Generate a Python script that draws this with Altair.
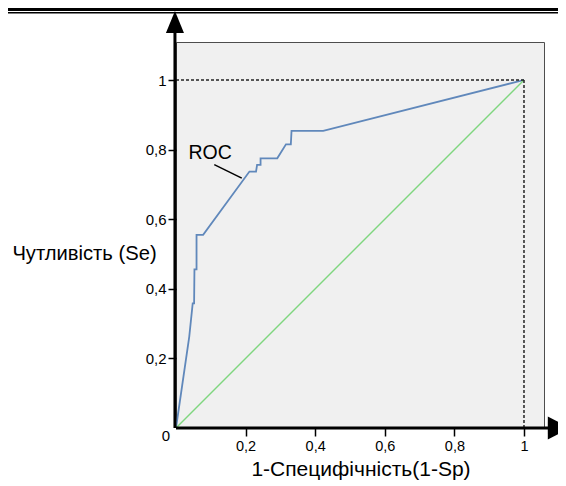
import altair as alt
import pandas as pd

# ROC curve points (1-Sp, Se)
roc_fpr = [0.0, 0.038, 0.048, 0.052, 0.053, 0.059, 0.059, 0.078, 0.211, 0.230, 0.233,
           0.243, 0.243, 0.291, 0.316, 0.330, 0.332, 0.423, 1.0]
roc_tpr = [0.0, 0.262, 0.358, 0.358, 0.456, 0.456, 0.555, 0.555, 0.737, 0.737, 0.756,
           0.756, 0.775, 0.775, 0.815, 0.815, 0.854, 0.854, 1.0]
diag_x = [0.0, 1.0]
diag_y = [0.0, 1.0]
tick_values = [0.2, 0.4, 0.6, 0.8, 1.0]
x_title = "1-Специфічність(1-Sp)"
y_title = "Чутливість (Se)"
roc_label = "ROC"
origin_label = "0"

X_DOMAIN = [0, 1.0575]
Y_DOMAIN = [0, 1.1092]
FONT = "Liberation Sans"

xs = alt.Scale(domain=X_DOMAIN, nice=False, zero=False)
ys = alt.Scale(domain=Y_DOMAIN, nice=False, zero=False)

label_expr = "replace(format(datum.value, '~g'), '.', ',')"

roc_df = pd.DataFrame({"fpr": roc_fpr, "tpr": roc_tpr, "i": list(range(len(roc_fpr)))})
diag_df = pd.DataFrame({"fpr": diag_x, "tpr": diag_y})

x_axis = alt.Axis(values=tick_values, labelExpr=label_expr, title=x_title, grid=False,
                  domain=False, tickSize=8, tickWidth=1.5, tickColor="black",
                  labelFont=FONT, labelFontSize=14.5, labelColor="black", labelPadding=3,
                  titleFont=FONT, titleFontSize=21, titleFontWeight="normal",
                  titleColor="black", titleX=184.5, titleY=47, titleAlign="center",
                  titleBaseline="alphabetic")
y_axis = alt.Axis(values=tick_values, labelExpr=label_expr, title=y_title, grid=False,
                  domain=False, tickSize=8, tickWidth=1.5, tickColor="black",
                  labelFont=FONT, labelFontSize=15, labelColor="black", labelPadding=2,
                  titleFont=FONT, titleFontSize=20.2, titleFontWeight="normal",
                  titleColor="black", titleAngle=0, titleX=-92, titleY=211,
                  titleAlign="center", titleBaseline="middle")


def X(field):
    return alt.X(field, type="quantitative", scale=xs, axis=x_axis)


def Y(field):
    return alt.Y(field, type="quantitative", scale=ys, axis=y_axis)


roc = alt.Chart(roc_df).mark_line(color="#6088bb", strokeWidth=1.8).encode(
    x=X("fpr"), y=Y("tpr"), order="i:Q",
)

diag = alt.Chart(diag_df).mark_line(color="#7fd67f", strokeWidth=1.4).encode(
    x=X("fpr"), y=Y("tpr"),
)

# dashed guide lines at Se = 1 and 1-Sp = 1
guide_df = pd.DataFrame({"fpr": [0.0, 1.0], "x2": [1.0, 1.0], "tpr": [1.0, 0.0], "y2": [1.0, 1.0]})
guides = alt.Chart(guide_df).mark_rule(color="#222222", strokeWidth=1.5, strokeDash=[3, 2]).encode(
    x=X("fpr"), x2="x2:Q", y=Y("tpr"), y2="y2:Q",
)

# thick axis lines with arrows
axes_df = pd.DataFrame({"fpr": [0.0, -0.003], "x2": [1.09, -0.003], "tpr": [0.0, 0.0], "y2": [0.0, 1.14]})
axes = alt.Chart(axes_df).mark_rule(color="black", strokeWidth=3).encode(
    x=X("fpr"), x2="x2:Q", y=Y("tpr"), y2="y2:Q",
)
up_df = pd.DataFrame({"fpr": [-0.003], "tpr": [1.1667]})
up_arrow = alt.Chart(up_df).mark_point(
    shape="M0,-1L0.82,1L-0.82,1Z", filled=True, color="black", size=484, opacity=1, strokeWidth=0
).encode(x=X("fpr"), y=Y("tpr"))
right_df = pd.DataFrame({"fpr": [1.1], "tpr": [0.0]})
right_arrow = alt.Chart(right_df).mark_point(
    shape="M1,0L-1,-1.05L-1,1.05Z", filled=True, color="black", size=484, opacity=1, strokeWidth=0
).encode(x=X("fpr"), y=Y("tpr"))

# double page rule at the top
top_df = pd.DataFrame({"fpr": [-0.6, -0.6], "x2": [1.2, 1.2], "tpr": [1.2026, 1.1935], "w": [3.0, 1.5]})
top_rules = alt.Chart(top_df).mark_rule(color="black").encode(
    x=X("fpr"), x2="x2:Q", y=Y("tpr"),
    strokeWidth=alt.StrokeWidth("w:Q", scale=None, legend=None),
)

# ROC label with leader line
lab_df = pd.DataFrame({"fpr": [0.098], "tpr": [0.790], "t": [roc_label]})
roc_text = alt.Chart(lab_df).mark_text(font=FONT, fontSize=19.5, color="black").encode(
    x=X("fpr"), y=Y("tpr"), text="t:N"
)
lead_df = pd.DataFrame({"fpr": [0.110], "tpr": [0.757], "x2": [0.189], "y2": [0.718]})
leader = alt.Chart(lead_df).mark_rule(color="black", strokeWidth=1.5).encode(
    x=X("fpr"), x2="x2:Q", y=Y("tpr"), y2="y2:Q",
)

org_df = pd.DataFrame({"fpr": [0.0], "tpr": [0.0], "t": [origin_label]})
org_text = alt.Chart(org_df).mark_text(font=FONT, fontSize=15, color="black", dx=-10, dy=8).encode(
    x=X("fpr"), y=Y("tpr"), text="t:N"
)

chart = alt.layer(
    roc, diag, guides, leader, roc_text, org_text, axes, up_arrow, right_arrow, top_rules
).properties(
    width=368, height=386,
    padding={"left": 168, "top": 34, "right": 14, "bottom": 52},
    autosize=alt.AutoSizeParams(type="none"),
    background="white",
).configure_view(fill="#f0f0f0", stroke="#4d4d4d", strokeWidth=1)

chart.save("out.html", embed_options={"renderer": "svg", "actions": False})
